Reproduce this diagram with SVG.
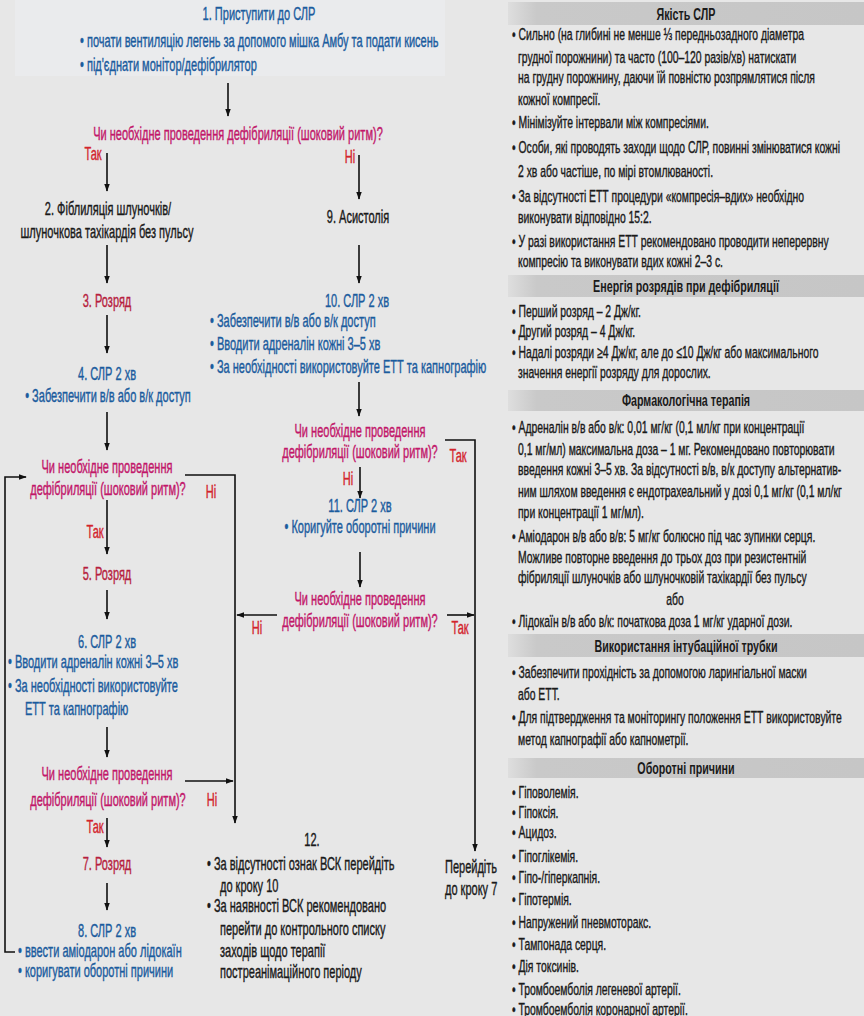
<svg xmlns="http://www.w3.org/2000/svg" width="864" height="1016" viewBox="0 0 864 1016">
<style>
text{font-family:"Liberation Sans",Arial,sans-serif;font-size:17.5px;stroke-width:.4}
.b{fill:#1b5c9e;stroke:#1b5c9e}
.q{fill:#c2176a;stroke:#c2176a}
.y{fill:#d3242c;stroke:#d3242c}
.r{fill:#b71f3f;stroke:#b71f3f}
.k{fill:#1a1a1a;stroke:#1a1a1a}
.m{text-anchor:middle}
.p{font-size:16.5px;fill:#1a1a1a;stroke:#1a1a1a}
.h{font-size:17px;font-weight:bold;fill:#1a1a1a;text-anchor:middle}
.ar{stroke:#111;stroke-width:1.6;fill:none;marker-end:url(#ah)}
</style>
<defs>
<marker id="ah" viewBox="0 0 10 10" refX="9" refY="5" markerWidth="5" markerHeight="5" orient="auto" markerUnits="strokeWidth"><path d="M0,1.5 L10,5 L0,8.5 Z" fill="#111"/></marker>
<linearGradient id="bar" x1="0" x2="1" y1="0" y2="0"><stop offset="0" stop-color="#dedede"/><stop offset="0.08" stop-color="#c9c9c9"/><stop offset="1" stop-color="#c6c6c6"/></linearGradient>
</defs>
<rect width="864" height="1016" fill="#e7e7e7"/>
<rect x="15" y="0" width="430" height="76" fill="#eaebed"/>

<g id="connectors">
<line class="ar" x1="228" y1="83" x2="228" y2="116"/>
<line class="ar" x1="107" y1="153" x2="107" y2="191"/>
<line class="ar" x1="359" y1="155" x2="359" y2="199"/>
<line class="ar" x1="107" y1="245" x2="107" y2="283"/>
<line class="ar" x1="359" y1="245" x2="359" y2="283"/>
<line class="ar" x1="107" y1="315" x2="107" y2="353"/>
<line class="ar" x1="359" y1="382" x2="359" y2="416"/>
<line class="ar" x1="107" y1="412" x2="107" y2="450"/>
<line class="ar" x1="360" y1="467" x2="360" y2="498"/>
<line class="ar" x1="360" y1="552" x2="360" y2="587"/>
<line class="ar" x1="107" y1="500" x2="107" y2="554"/>
<line class="ar" x1="107" y1="590" x2="107" y2="619"/>
<line class="ar" x1="107" y1="727" x2="107" y2="757"/>
<line class="ar" x1="107" y1="818" x2="107" y2="847"/>
<line class="ar" x1="107" y1="883" x2="107" y2="910"/>
<polyline class="ar" points="15,952 5,952 5,477 26,477"/>
<polyline class="ar" points="185,475 235,475 235,823"/>
<line class="ar" x1="185" y1="781" x2="233" y2="781"/>
<line class="ar" x1="277" y1="615" x2="237" y2="615"/>
<polyline class="ar" points="445,440 475,440 475,851"/>
<line class="ar" x1="447" y1="615" x2="474" y2="615"/>
</g>

<g id="n1">
<text class="b m" transform="translate(259,20) scale(.63,1)">1. Приступити до СЛР</text>
<text class="b" transform="translate(80,47) scale(.63,1)">• почати вентиляцію легень за допомого мішка Амбу та подати кисень</text>
<text class="b" transform="translate(80,71) scale(.63,1)">• під'єднати монітор/дефібрилятор</text>
</g>
<g id="q1">
<text class="q m" transform="translate(238,140) scale(.63,1)">Чи необхідне проведення дефібриляції (шоковий ритм)?</text>
<text class="y m" transform="translate(93,160) scale(.63,1)">Так</text>
<text class="y m" transform="translate(350,163) scale(.63,1)">Ні</text>
</g>
<g id="n2">
<text class="k m" transform="translate(108,215) scale(.63,1)">2. Фіблиляція шлуночків/</text>
<text class="k m" transform="translate(107,238) scale(.63,1)">шлуночкова тахікардія без пульсу</text>
</g>
<g id="n9"><text class="k m" transform="translate(358,223) scale(.63,1)">9. Асистолія</text></g>
<g id="n3"><text class="r m" transform="translate(107,307) scale(.63,1)">3. Розряд</text></g>
<g id="n10">
<text class="b m" transform="translate(357,307) scale(.63,1)">10. СЛР 2 хв</text>
<text class="b" transform="translate(210,327) scale(.63,1)">• Забезпечити в/в або в/к доступ</text>
<text class="b" transform="translate(210,350) scale(.63,1)">• Вводити адреналін кожні 3–5 хв</text>
<text class="b" transform="translate(210,373) scale(.63,1)">• За необхідності використовуйте ЕТТ та капнографію</text>
</g>
<g id="n4">
<text class="b m" transform="translate(107,380) scale(.63,1)">4. СЛР 2 хв</text>
<text class="b m" transform="translate(108,402) scale(.63,1)">• Забезпечити в/в або в/к доступ</text>
</g>
<g id="q3">
<text class="q m" transform="translate(360,437) scale(.63,1)">Чи необхідне проведення</text>
<text class="q m" transform="translate(360,458) scale(.63,1)">дефібриляції (шоковий ритм)?</text>
<text class="y m" transform="translate(458,462) scale(.63,1)">Так</text>
<text class="y m" transform="translate(348,485) scale(.63,1)">Ні</text>
</g>
<g id="q2">
<text class="q m" transform="translate(107,473) scale(.63,1)">Чи необхідне проведення</text>
<text class="q m" transform="translate(108,495) scale(.63,1)">дефібриляції (шоковий ритм)?</text>
<text class="y m" transform="translate(211,498) scale(.63,1)">Ні</text>
<text class="y m" transform="translate(95,538) scale(.63,1)">Так</text>
</g>
<g id="n11">
<text class="b m" transform="translate(360,512) scale(.63,1)">11. СЛР 2 хв</text>
<text class="b m" transform="translate(360,533) scale(.63,1)">• Коригуйте оборотні причини</text>
</g>
<g id="q4">
<text class="q m" transform="translate(360,605) scale(.63,1)">Чи необхідне проведення</text>
<text class="q m" transform="translate(360,627) scale(.63,1)">дефібриляції (шоковий ритм)?</text>
<text class="y m" transform="translate(257,634) scale(.63,1)">Ні</text>
<text class="y m" transform="translate(460,634) scale(.63,1)">Так</text>
</g>
<g id="n5"><text class="r m" transform="translate(107,580) scale(.63,1)">5. Розряд</text></g>
<g id="n6">
<text class="b m" transform="translate(107,648) scale(.63,1)">6. СЛР 2 хв</text>
<text class="b" transform="translate(8,668) scale(.63,1)">• Вводити адреналін кожні 3–5 хв</text>
<text class="b" transform="translate(8,692) scale(.63,1)">• За необхідності використовуйте</text>
<text class="b" transform="translate(25,715) scale(.63,1)">ЕТТ та капнографію</text>
</g>
<g id="q5">
<text class="q m" transform="translate(107,780) scale(.63,1)">Чи необхідне проведення</text>
<text class="q m" transform="translate(108,806) scale(.63,1)">дефібриляції (шоковий ритм)?</text>
<text class="y m" transform="translate(212,806) scale(.63,1)">Ні</text>
<text class="y m" transform="translate(95,833) scale(.63,1)">Так</text>
</g>
<g id="n7"><text class="r m" transform="translate(107,870) scale(.63,1)">7. Розряд</text></g>
<g id="n8">
<text class="b m" transform="translate(107,937) scale(.63,1)">8. СЛР 2 хв</text>
<text class="b" transform="translate(18,957) scale(.63,1)">• ввести аміодарон або лідокаїн</text>
<text class="b" transform="translate(18,977) scale(.63,1)">• коригувати оборотні причини</text>
</g>
<g id="n12">
<text class="k m" transform="translate(312,846) scale(.63,1)">12.</text>
<text class="k" transform="translate(207,870) scale(.63,1)">• За відсутності ознак ВСК перейдіть</text>
<text class="k" transform="translate(220,892) scale(.63,1)">до кроку 10</text>
<text class="k" transform="translate(207,912) scale(.63,1)">• За наявності ВСК рекомендовано</text>
<text class="k" transform="translate(220,935) scale(.63,1)">перейти до контрольного списку</text>
<text class="k" transform="translate(220,957) scale(.63,1)">заходів щодо терапії</text>
<text class="k" transform="translate(220,978) scale(.63,1)">постреанімаційного періоду</text>
</g>
<g id="goto7">
<text class="k" transform="translate(445,873) scale(.63,1)">Перейдіть</text>
<text class="k" transform="translate(445,895) scale(.63,1)">до кроку 7</text>
</g>

<g id="panel">
<rect x="508" y="2" width="356" height="23" fill="url(#bar)"/>
<text class="h" transform="translate(686,20) scale(.63,1)">Якість СЛР</text>
<text class="p" transform="translate(512,40) scale(.63,1)">• Сильно (на глибині не менше ⅓ передньозадного діаметра</text>
<text class="p" transform="translate(518,63) scale(.63,1)">грудної порожнини) та часто (100–120 разів/хв) натискати</text>
<text class="p" transform="translate(518,83) scale(.63,1)">на грудну порожнину, даючи їй повністю розпрямлятися після</text>
<text class="p" transform="translate(518,105) scale(.63,1)">кожної компресії.</text>
<text class="p" transform="translate(512,128) scale(.63,1)">• Мінімізуйте інтервали між компресіями.</text>
<text class="p" transform="translate(512,153) scale(.63,1)">• Особи, які проводять заходи щодо СЛР, повинні змінюватися кожні</text>
<text class="p" transform="translate(518,177) scale(.63,1)">2 хв або частіше, по мірі втомлюваності.</text>
<text class="p" transform="translate(512,202) scale(.63,1)">• За відсутності ЕТТ процедури «компресія–вдих» необхідно</text>
<text class="p" transform="translate(518,223) scale(.63,1)">виконувати відповідно 15:2.</text>
<text class="p" transform="translate(512,247) scale(.63,1)">• У разі використання ЕТТ рекомендовано проводити неперервну</text>
<text class="p" transform="translate(518,267) scale(.63,1)">компресію та виконувати вдих кожні 2–3 с.</text>

<rect x="508" y="275" width="356" height="22" fill="url(#bar)"/>
<text class="h" transform="translate(686,292) scale(.63,1)">Енергія розрядів при дефібриляції</text>
<text class="p" transform="translate(512,317) scale(.63,1)">• Перший розряд – 2 Дж/кг.</text>
<text class="p" transform="translate(512,337) scale(.63,1)">• Другий розряд – 4 Дж/кг.</text>
<text class="p" transform="translate(512,358) scale(.63,1)">• Надалі розряди ≥4 Дж/кг, але до ≤10 Дж/кг або максимального</text>
<text class="p" transform="translate(518,378) scale(.63,1)">значення енергії розряду для дорослих.</text>

<rect x="508" y="390" width="356" height="21" fill="url(#bar)"/>
<text class="h" transform="translate(686,406) scale(.63,1)">Фармакологічна терапія</text>
<text class="p" transform="translate(512,433) scale(.63,1)">• Адреналін в/в або в/к: 0,01 мг/кг (0,1 мл/кг при концентрації</text>
<text class="p" transform="translate(518,455) scale(.63,1)">0,1 мг/мл) максимальна доза – 1 мг. Рекомендовано повторювати</text>
<text class="p" transform="translate(518,475) scale(.63,1)">введення кожні 3–5 хв. За відсутності в/в, в/к доступу альтернатив-</text>
<text class="p" transform="translate(518,497) scale(.63,1)">ним шляхом введення є ендотрахеальний у дозі 0,1 мг/кг (0,1 мл/кг</text>
<text class="p" transform="translate(518,518) scale(.63,1)">при концентрації 1 мг/мл).</text>
<text class="p" transform="translate(512,542) scale(.63,1)">• Аміодарон в/в або в/в: 5 мг/кг болюсно під час зупинки серця.</text>
<text class="p" transform="translate(518,563) scale(.63,1)">Можливе повторне введення до трьох доз при резистентній</text>
<text class="p" transform="translate(518,583) scale(.63,1)">фібриляції шлуночків або шлуночковій тахікардії без пульсу</text>
<text class="p m" transform="translate(675,605) scale(.63,1)">або</text>
<text class="p" transform="translate(512,627) scale(.63,1)">• Лідокаїн в/в або в/к: початкова доза 1 мг/кг ударної дози.</text>

<rect x="508" y="634" width="356" height="23" fill="url(#bar)"/>
<text class="h" transform="translate(686,652) scale(.63,1)">Використання інтубаційної трубки</text>
<text class="p" transform="translate(512,678) scale(.63,1)">• Забезпечити прохідність за допомогою ларингіальної маски</text>
<text class="p" transform="translate(518,700) scale(.63,1)">або ЕТТ.</text>
<text class="p" transform="translate(512,723) scale(.63,1)">• Для підтвердження та моніторингу положення ЕТТ використовуйте</text>
<text class="p" transform="translate(518,745) scale(.63,1)">метод капнографії або капнометрії.</text>

<rect x="508" y="758" width="356" height="20" fill="url(#bar)"/>
<text class="h" transform="translate(686,774) scale(.63,1)">Оборотні причини</text>
<text class="p" transform="translate(512,798) scale(.63,1)">• Гіповолемія.</text>
<text class="p" transform="translate(512,818) scale(.63,1)">• Гіпоксія.</text>
<text class="p" transform="translate(512,838) scale(.63,1)">• Ацидоз.</text>
<text class="p" transform="translate(512,862) scale(.63,1)">• Гіпоглікемія.</text>
<text class="p" transform="translate(512,883) scale(.63,1)">• Гіпо-/гіперкапнія.</text>
<text class="p" transform="translate(512,905) scale(.63,1)">• Гіпотермія.</text>
<text class="p" transform="translate(512,928) scale(.63,1)">• Напружений пневмоторакс.</text>
<text class="p" transform="translate(512,950) scale(.63,1)">• Тампонада серця.</text>
<text class="p" transform="translate(512,972) scale(.63,1)">• Дія токсинів.</text>
<text class="p" transform="translate(512,995) scale(.63,1)">• Тромбоемболія легеневої артерії.</text>
<text class="p" transform="translate(512,1015) scale(.63,1)">• Тромбоемболія коронарної артерії.</text>
</g>
</svg>
